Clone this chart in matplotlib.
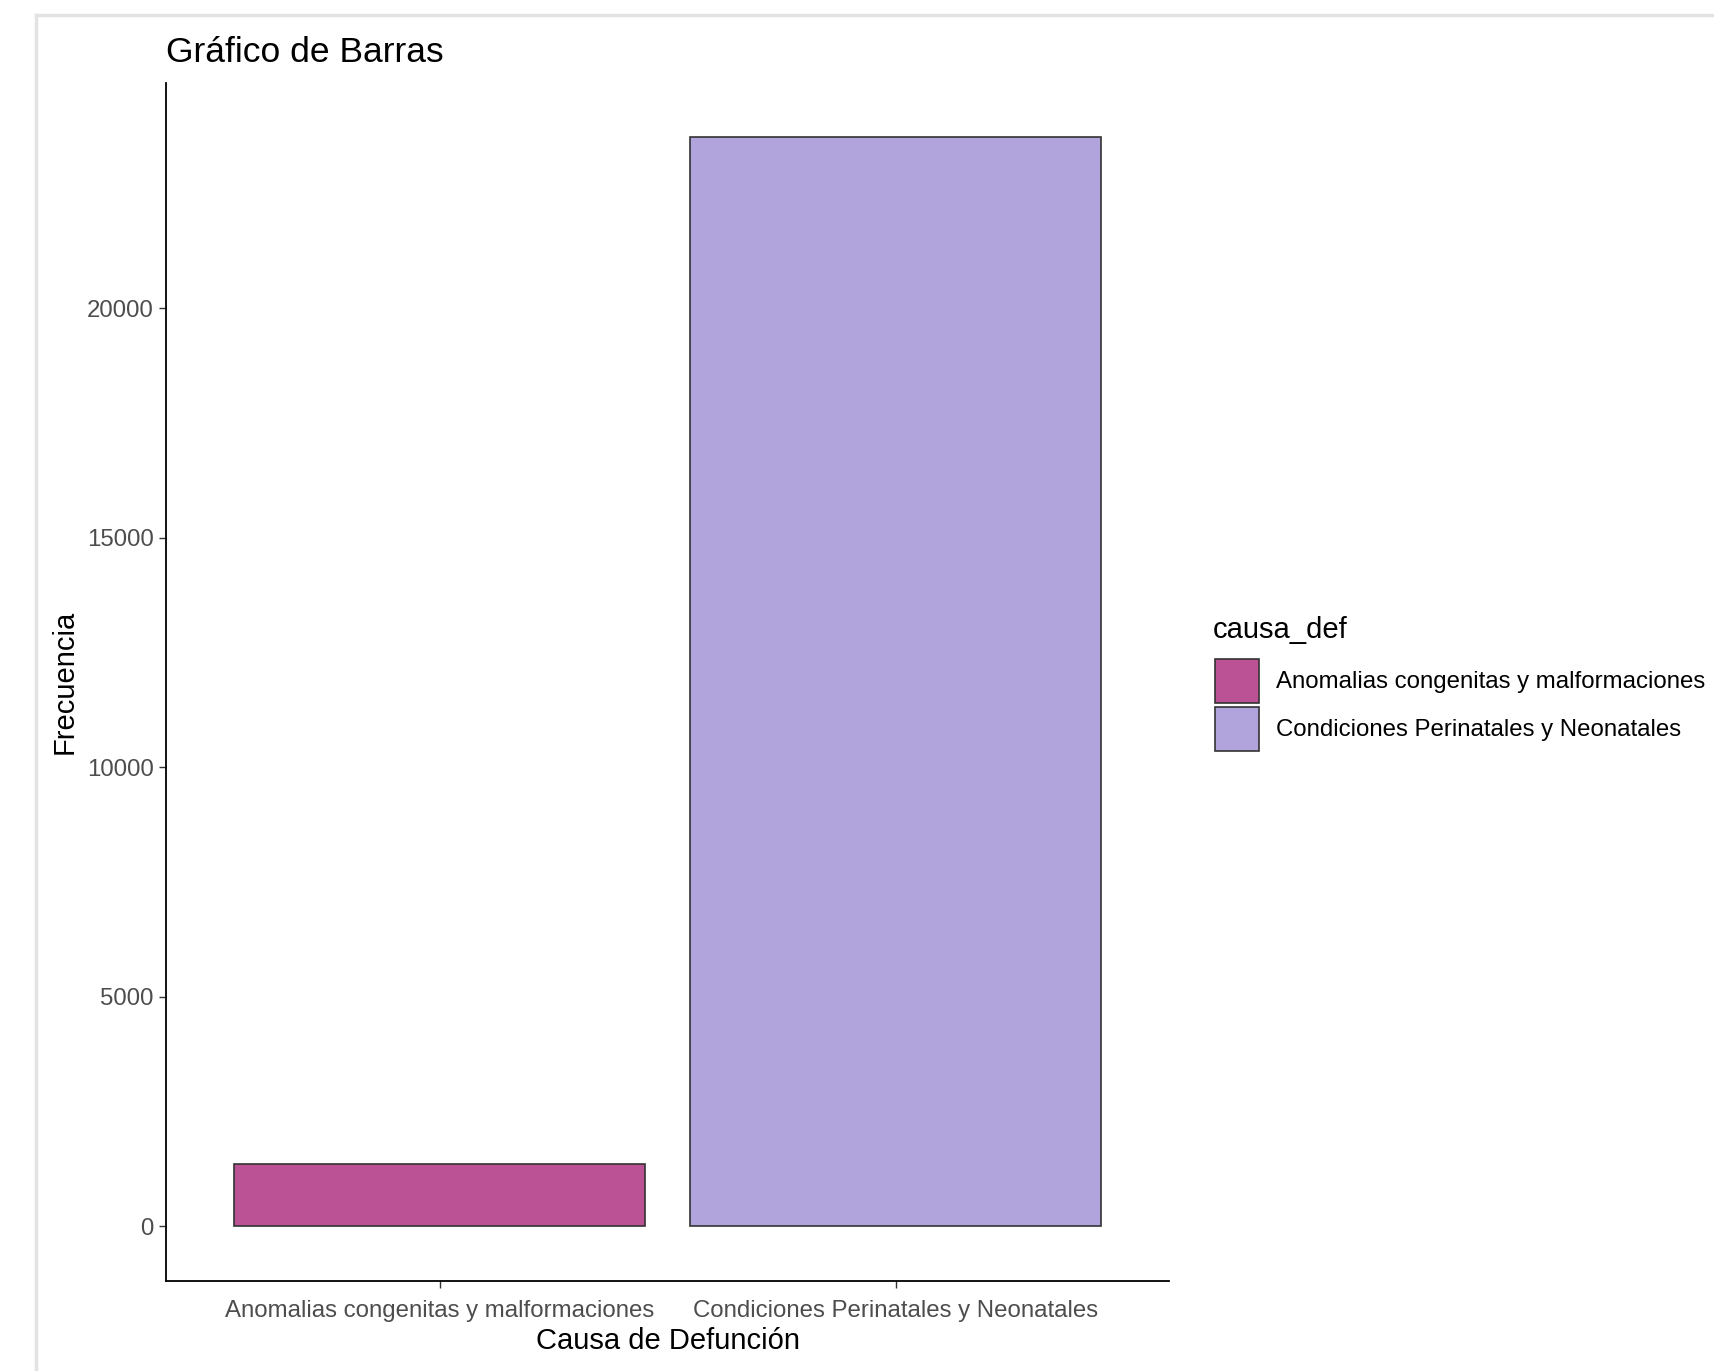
import matplotlib.pyplot as plt
from matplotlib.patches import Patch
from matplotlib.lines import Line2D

plt.rcParams['font.family'] = ['Liberation Sans', 'DejaVu Sans']

# Data
causas = ["Anomalias congenitas y malformaciones", "Condiciones Perinatales y Neonatales"]
frecuencias = [1360, 23720]
colores = ["#BC5296", "#B1A4DC"]
yticks = [0, 5000, 10000, 15000, 20000]

fig = plt.figure(figsize=(17.14, 13.71), dpi=100)
ax = fig.add_axes([0.0969, 0.0657, 0.5853, 0.8738])

x = list(range(1, len(causas) + 1))
ax.bar(x, frecuencias, width=0.9, color=colores, edgecolor="#333333", linewidth=1.2)

ymax = max(frecuencias)
ax.set_xlim(0.4, len(causas) + 0.6)
ax.set_ylim(-0.05 * ymax, 1.05 * ymax)
ax.set_xticks(x)
ax.set_xticklabels(causas)
ax.set_yticks(yticks)
ax.tick_params(axis="both", labelsize=17.3, colors="#333333", labelcolor="#4d4d4d",
               length=5, width=1, direction="out", pad=4)
ax.tick_params(axis="x", pad=8.5)

for side in ["top", "right"]:
    ax.spines[side].set_visible(False)
for side in ["left", "bottom"]:
    ax.spines[side].set_linewidth(1.3)
    ax.spines[side].set_color("black")

ax.set_xlabel("Causa de Defunción", fontsize=21, labelpad=4)
ax.set_ylabel("Frecuencia", fontsize=21, labelpad=5.6)
ax.set_title("Gráfico de Barras", fontsize=25.5, loc="left", pad=15)

# Legend (title drawn separately to match ggplot spacing)
handles = [Patch(facecolor=c, edgecolor="#333333", linewidth=1.2) for c in colores]
leg = fig.legend(handles, causas, loc="upper left",
                 bbox_to_anchor=(0.709, 0.5193), frameon=False, fontsize=17.3,
                 handlelength=1.83, handleheight=2.44,
                 labelspacing=0.15, handletextpad=0.68,
                 borderaxespad=0, borderpad=0)
fig.text(0.7077, 0.5405, "causa_def", fontsize=21, ha="left", va="center")

# screenshot border
fig.add_artist(Line2D([0.021, 0.021], [0.0, 0.989], color="#e3e3e3", linewidth=2.5))
fig.add_artist(Line2D([0.021, 1.0], [0.989, 0.989], color="#e3e3e3", linewidth=2.5))

fig.savefig("out.png", dpi=100)
